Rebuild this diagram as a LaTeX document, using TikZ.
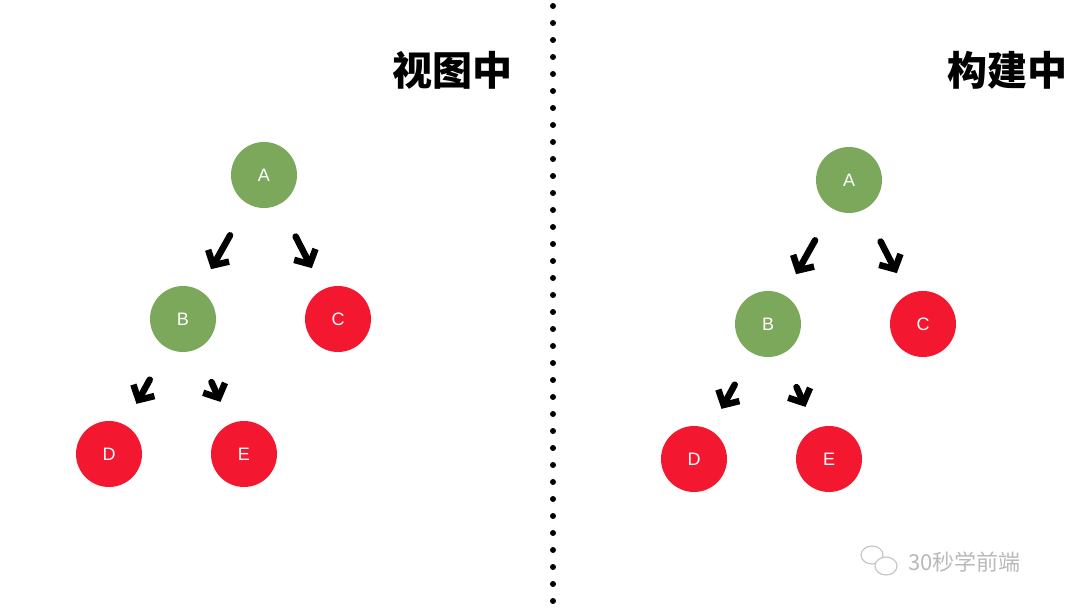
\documentclass[tikz,border=0pt]{standalone}
\usepackage{fontspec}
\setmainfont{Liberation Sans}
\newfontfamily\cjk{Noto Sans CJK SC}
\usetikzlibrary{arrows.meta}
\definecolor{nodegreen}{HTML}{7BA85A}
\definecolor{nodered}{HTML}{F3172F}
\tikzset{
  tnode/.style={circle, minimum size=66pt, inner sep=0pt, text=white, font=\fontsize{18pt}{18pt}\selectfont},
  gnode/.style={tnode, fill=nodegreen},
  rnode/.style={tnode, fill=nodered},
  step arrow/.style={line width=6.5pt, line cap=round, line join=round,
    -{Straight Barb[length=11pt, width=24pt, line width=6.5pt]},
    shorten <=36pt, shorten >=24pt},
  title/.style={anchor=east, font=\cjk\bfseries\fontsize{40pt}{40pt}\selectfont}
}
\begin{document}
\begin{tikzpicture}[x=1pt, y=-1pt]
\useasboundingbox (0,0) rectangle (1080,609);

% two trees
\foreach \side/\dx/\dy in {l/0/0, r/585/5} {
  \begin{scope}[shift={(\dx,\dy)}]
    \node[gnode] (\side A) at (264,175) {A};
    \node[gnode] (\side B) at (183,319) {B};
    \node[rnode] (\side C) at (338,319) {C};
    \node[rnode] (\side D) at (109,454) {D};
    \node[rnode] (\side E) at (244,454) {E};
  \end{scope}
  \draw[step arrow] (\side A) -- (\side B);
  \draw[step arrow] (\side A) -- (\side C);
  \draw[step arrow] (\side B) -- (\side D);
  \draw[step arrow] (\side B) -- (\side E);
}

\node[title] (tview) at (516,70) {视图中};
\node[title] (tbuild) at (1071,70) {构建中};

% separator
\foreach \k in {0,...,35}
  \fill (553,6+\k*17) circle (3pt);

% watermark
\draw[gray!45, line width=1.2pt] (872,555) ellipse (11pt and 9pt);
\draw[gray!45, line width=1.2pt, fill=white] (886,566) ellipse (11pt and 9pt);
\node[anchor=west, text=gray!55, font=\cjk\fontsize{22pt}{22pt}\selectfont] (wm) at (905,562) {30秒学前端};
\end{tikzpicture}
\end{document}
